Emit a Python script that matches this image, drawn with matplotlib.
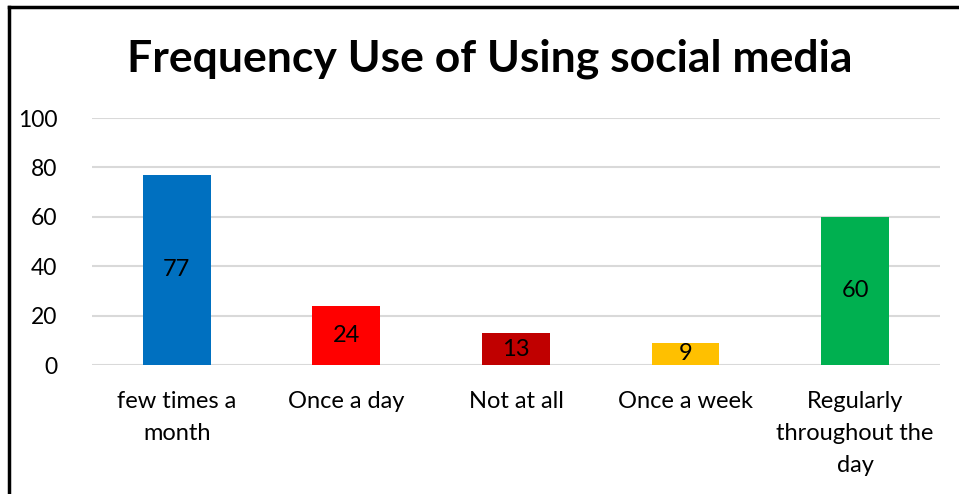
import matplotlib.pyplot as plt
from matplotlib.lines import Line2D

categories = ['few times a\nmonth', 'Once a day', 'Not at all', 'Once a week',
              'Regularly\nthroughout the\nday']
values = [77, 24, 13, 9, 60]
colors = ['#0070C0', '#FF0000', '#C00000', '#FFC000', '#00B050']
yticks = [0, 20, 40, 60, 80, 100]

plt.rcParams['font.family'] = ['Lato', 'DejaVu Sans']

fig = plt.figure(figsize=(9.59, 4.94), dpi=100)
ax = fig.add_axes([0.096, 0.261, 0.884, 0.5])

x = range(len(categories))
bars = ax.bar(x, values, width=0.4, color=colors, zorder=3)
for b, v in zip(bars, values):
    ax.text(b.get_x() + b.get_width() / 2, v / 2, str(v), ha='center', va='center',
            fontsize=17, color='black', zorder=4)

ax.set_ylim(0, 100)
ax.set_xlim(-0.5, len(categories) - 0.5)
ax.set_yticks(yticks)
ax.set_yticklabels([str(t) for t in yticks], fontsize=16.5)
ax.set_xticks(list(x))
ax.set_xticklabels(categories, fontsize=17, linespacing=1.62)
ax.tick_params(length=0, pad=19)
ax.tick_params(axis='y', pad=25)
ax.yaxis.grid(True, color='#D9D9D9', linewidth=1.5, zorder=0)
for s in ax.spines.values():
    s.set_visible(False)

fig.text(0.511, 0.882, 'Frequency Use of Using social media', ha='center', va='center',
         fontsize=32, fontweight='bold')

# outer frame (left and top edges visible)
fig.add_artist(Line2D([0.0099, 0.0099], [0, 0.986], color='black', linewidth=2.5,
                      transform=fig.transFigure))
fig.add_artist(Line2D([0.0099, 1.0], [0.986, 0.986], color='black', linewidth=2.5,
                      transform=fig.transFigure))

fig.savefig('out.png', dpi=100)
